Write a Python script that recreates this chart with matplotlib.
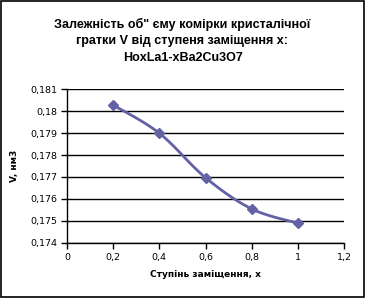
import numpy as np
import matplotlib
matplotlib.use('Agg')
from matplotlib import pyplot as plt
from matplotlib.patches import Rectangle
from matplotlib.ticker import FuncFormatter

# Дані
x_vals = [0.2, 0.4, 0.6, 0.8, 1.0]
v_vals = [0.18027, 0.17899, 0.17697, 0.17555, 0.1749]
x_ticks = [0, 0.2, 0.4, 0.6, 0.8, 1.0, 1.2]
y_ticks = [0.174, 0.175, 0.176, 0.177, 0.178, 0.179, 0.180, 0.181]

title = 'Залежність об" єму комірки кристалічної\nгратки V від ступеня заміщення х:\nHoxLa1-xBa2Cu3O7'
x_label = 'Ступінь заміщення, х'
y_label = 'V, нм3'

color = '#6262a4'


def smooth_curve(xs, ys, n=30):
    # згладжування як в Excel (Catmull-Rom через Безьє)
    xs = np.array(xs, float)
    ys = np.array(ys, float)
    px = np.concatenate([[xs[0]], xs, [xs[-1]]])
    py = np.concatenate([[ys[0]], ys, [ys[-1]]])
    out_x, out_y = [], []
    t = np.linspace(0, 1, n)
    for i in range(1, len(px) - 2):
        p0 = np.array([px[i], py[i]])
        p3 = np.array([px[i + 1], py[i + 1]])
        p1 = p0 + (np.array([px[i + 1], py[i + 1]]) - np.array([px[i - 1], py[i - 1]])) / 6
        p2 = p3 - (np.array([px[i + 2], py[i + 2]]) - np.array([px[i], py[i]])) / 6
        b = ((1 - t) ** 3)[:, None] * p0 + (3 * (1 - t) ** 2 * t)[:, None] * p1 \
            + (3 * (1 - t) * t ** 2)[:, None] * p2 + (t ** 3)[:, None] * p3
        out_x.extend(b[:, 0])
        out_y.extend(b[:, 1])
    return out_x, out_y


fig = plt.figure(figsize=(3.65, 2.98), dpi=100)
ax = fig.add_axes([0.1836, 0.1846, 0.7589, 0.5167])

sx, sy = smooth_curve(x_vals, v_vals)
ax.plot(sx, sy, color=color, lw=2.0, zorder=3)
ax.plot(x_vals, v_vals, ls='none', marker='D', ms=5, color=color, zorder=4)

ax.set_xlim(0, 1.2)
ax.set_ylim(0.174, 0.181)
ax.set_xticks(x_ticks)
ax.set_yticks(y_ticks)
ax.xaxis.set_major_formatter(FuncFormatter(lambda v, p: ('%g' % round(v, 3)).replace('.', ',')))
ax.yaxis.set_major_formatter(FuncFormatter(lambda v, p: ('%g' % round(v, 3)).replace('.', ',')))
ax.grid(axis='y', color='black', lw=1)
ax.set_axisbelow(True)
for s in ['top', 'right']:
    ax.spines[s].set_visible(False)
for s in ['left', 'bottom']:
    ax.spines[s].set_linewidth(1)
ax.tick_params(axis='both', labelsize=6.8, length=4, width=1, direction='out', pad=3)

ax.set_xlabel(x_label, fontsize=6.5, fontweight='bold', labelpad=6)
ax.set_ylabel(y_label, fontsize=6.5, fontweight='bold', labelpad=8)

fig.text(0.5, 0.94, title, ha='center', va='top', fontsize=9, fontweight='bold',
         family='Liberation Sans', linespacing=1.5)

fig.patches.append(Rectangle((0.002, 0.003), 0.995, 0.994, transform=fig.transFigure,
                             fill=False, edgecolor='black', lw=1.2))

plt.savefig('out.png', dpi=100)
